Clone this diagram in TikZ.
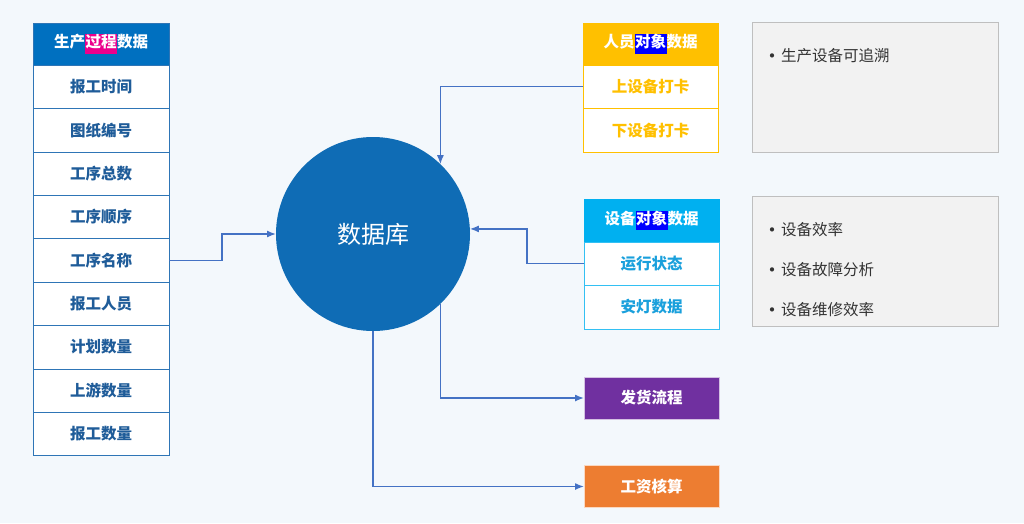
\documentclass[tikz,border=0pt]{standalone}
\usepackage{fontspec}
\setmainfont{Noto Sans CJK SC}
\usepackage{tikz}
\usetikzlibrary{shapes,arrows.meta,positioning}
\usepackage{xcolor}
\definecolor{procblue}{RGB}{0,112,192}
\definecolor{proctext}{RGB}{31,92,153}
\definecolor{procline}{RGB}{46,117,182}
\definecolor{persongold}{RGB}{255,192,0}
\definecolor{devcyan}{RGB}{0,176,240}
\definecolor{devtext}{RGB}{26,160,220}
\definecolor{dbblue}{RGB}{15,108,181}
\definecolor{linkblue}{RGB}{68,114,196}
\definecolor{shippurple}{RGB}{112,48,160}
\definecolor{wageorange}{RGB}{237,125,49}
\definecolor{notegray}{RGB}{242,242,242}
\definecolor{noteline}{RGB}{191,191,191}
\definecolor{bgwash}{RGB}{243,248,252}

\newcommand{\hilite}[2]{{\setlength{\fboxsep}{0.5pt}\colorbox{#1}{\strut #2}}}
\newcommand{\dotmark}{\makebox[19pt][l]{\raisebox{-2pt}{\fontsize{20}{20}\selectfont •}}}

\begin{document}
\begin{tikzpicture}[
    x=1pt, y=-1pt,
    every node/.style={font=\fontsize{15.5}{18}\selectfont\bfseries, outer sep=0pt},
    prochead/.style={rectangle, draw=procline, fill=procblue, text=white, minimum width=136pt, minimum height=42pt, inner sep=0pt},
    procrow/.style={rectangle, draw=procline, fill=white, text=proctext, minimum width=136pt, minimum height=43.4pt, inner sep=0pt},
    personhead/.style={rectangle, draw=persongold, fill=persongold, text=white, minimum width=135pt, minimum height=42pt, inner sep=0pt},
    personrow/.style={rectangle, draw=persongold, fill=white, text=persongold, minimum width=135pt, minimum height=43.4pt, inner sep=0pt},
    devhead/.style={rectangle, draw=devcyan, fill=devcyan, text=white, minimum width=135pt, minimum height=43pt, inner sep=0pt},
    devrow/.style={rectangle, draw=devcyan!80, fill=white, text=devtext, minimum width=135pt, minimum height=43.4pt, inner sep=0pt},
    flowbox/.style={rectangle, draw=white!70!#1, fill=#1, text=white, minimum width=135pt, minimum height=42pt, inner sep=0pt},
    notebox/.style={rectangle, draw=noteline, fill=notegray, minimum width=246pt, minimum height=130pt},
    bullet/.style={anchor=west, inner sep=0pt, text=black!80, font=\fontsize{15.5}{18}\selectfont},
    arrow/.style={-{Latex[length=9pt,width=7pt]}, line width=1.4pt, linkblue}
]
    \fill[bgwash] (0,0) rectangle (1024,523);
    \useasboundingbox (0,0) rectangle (1024,523);

    % Nodes
    \node[prochead] (proc) at (101,44) {生产\hilite{magenta}{过程}数据};
    \node[procrow, below=0pt of proc] (rtime) {报工时间};
    \node[procrow, below=0pt of rtime] (drawno) {图纸编号};
    \node[procrow, below=0pt of drawno] (stepsum) {工序总数};
    \node[procrow, below=0pt of stepsum] (steporder) {工序顺序};
    \node[procrow, below=0pt of steporder] (stepname) {工序名称};
    \node[procrow, below=0pt of stepname] (worker) {报工人员};
    \node[procrow, below=0pt of worker] (planqty) {计划数量};
    \node[procrow, below=0pt of planqty] (upqty) {上游数量};
    \node[procrow, below=0pt of upqty] (repqty) {报工数量};

    \node[circle, fill=dbblue, text=white, minimum size=194pt, font=\fontsize{24}{28}\selectfont] (db) at (373,234) {数据库};

    \node[personhead] (person) at (650.5,44) {人员\hilite{blue}{对象}数据};
    \node[personrow, below=0pt of person] (clockin) {上设备打卡};
    \node[personrow, below=0pt of clockin] (clockout) {下设备打卡};

    \node[devhead] (device) at (651.5,220.5) {设备\hilite{blue}{对象}数据};
    \node[devrow, below=0pt of device] (status) {运行状态};
    \node[devrow, below=0pt of status] (andon) {安灯数据};

    \node[flowbox=shippurple] (ship) at (651.5,398) {发货流程};
    \node[flowbox=wageorange] (wage) at (651.5,486.5) {工资核算};

    \node[notebox] (trace) at (875,87) {};
    \node[bullet] (tracea) at (762,56) {\dotmark 生产设备可追溯};

    \node[notebox] (effic) at (875,261) {};
    \node[bullet] (effica) at (762,230) {\dotmark 设备效率};
    \node[bullet] (efficb) at (762,270) {\dotmark 设备故障分析};
    \node[bullet] (efficc) at (762,310) {\dotmark 设备维修效率};

    % Arrows
    \draw[arrow] (stepname.east) -- ++(53,0) |- (db.west);
    \draw[arrow] (clockin.west) -| (db.46);
    \draw[arrow] (status.west) -- ++(-57,0) |- (db.3);
    \draw[arrow] (db.-46) |- (ship.west);
    \draw[arrow] (db.south) |- (wage.west);
\end{tikzpicture}
\end{document}
